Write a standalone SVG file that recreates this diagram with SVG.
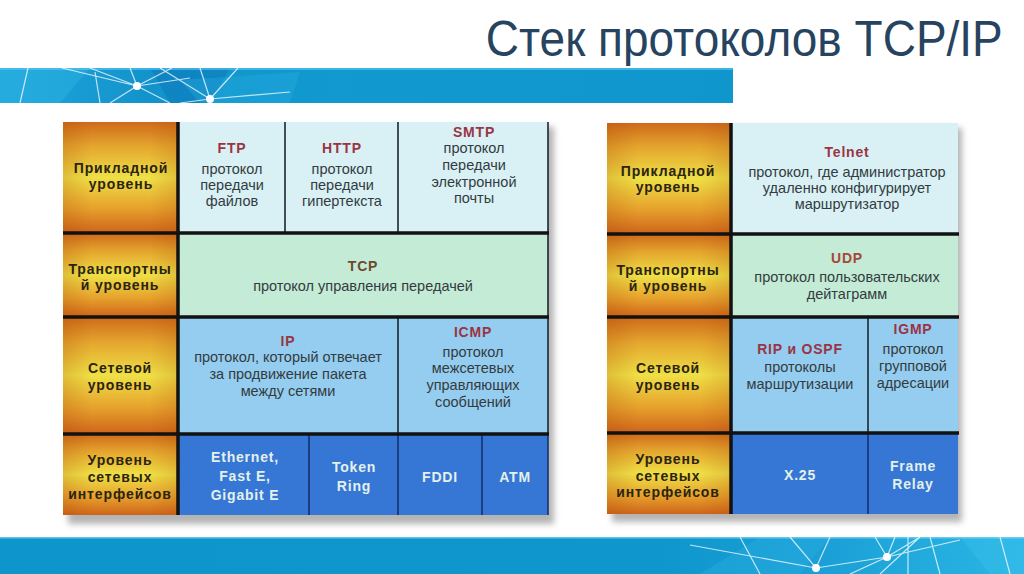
<svg xmlns="http://www.w3.org/2000/svg" width="1024" height="574" viewBox="0 0 1024 574">
<defs>
<linearGradient id="lab" x1="0" y1="0" x2="0" y2="1">
<stop offset="0" stop-color="#cf6a1a"/>
<stop offset="0.22" stop-color="#e4a62e"/>
<stop offset="0.5" stop-color="#efe046"/>
<stop offset="0.78" stop-color="#e6a02c"/>
<stop offset="1" stop-color="#cf641a"/>
</linearGradient>
<linearGradient id="labh" x1="0" y1="0" x2="1" y2="0">
<stop offset="0" stop-color="#a04000" stop-opacity="0.2"/>
<stop offset="0.25" stop-color="#a04000" stop-opacity="0"/>
<stop offset="0.75" stop-color="#a04000" stop-opacity="0"/>
<stop offset="1" stop-color="#a04000" stop-opacity="0.18"/>
</linearGradient>
<linearGradient id="bandTop" x1="0" y1="0" x2="1" y2="0">
<stop offset="0" stop-color="#1fa6da"/>
<stop offset="0.2" stop-color="#1393cc"/>
<stop offset="0.45" stop-color="#1199d0"/>
<stop offset="1" stop-color="#0f96cd"/>
</linearGradient>
<linearGradient id="bandBot" x1="0" y1="0" x2="1" y2="0">
<stop offset="0" stop-color="#0e95cb"/>
<stop offset="0.65" stop-color="#0f97cd"/>
<stop offset="0.8" stop-color="#1a9fd6"/>
<stop offset="1" stop-color="#2ab6e4"/>
</linearGradient>
<filter id="sh" x="-5%" y="-5%" width="110%" height="115%">
<feGaussianBlur stdDeviation="3"/>
</filter>
<style>
.lbl{font-family:"Liberation Sans",Arial,sans-serif;font-weight:bold;font-size:14px;letter-spacing:0.9px;fill:#2a2410;text-anchor:middle}
.nm{font-family:"Liberation Sans",Arial,sans-serif;font-weight:bold;font-size:14px;letter-spacing:0.8px;fill:#9a3444;text-anchor:middle}
.tx{font-family:"Liberation Sans",Arial,sans-serif;font-size:14.5px;fill:#333b40;text-anchor:middle}
.wt{font-family:"Liberation Sans",Arial,sans-serif;font-weight:bold;font-size:14px;letter-spacing:0.8px;fill:#e4f0ea;text-anchor:middle}
.thick{stroke:#121212;stroke-width:3.5;fill:none}
.thin{stroke:#1c2630;stroke-width:1.6;fill:none}
.thinb{stroke:#15306a;stroke-width:1.6;fill:none}
.net{stroke:#ffffff;stroke-opacity:0.75;stroke-width:1.2;fill:none}
.c1{fill:#d9f1f5}.c2{fill:#c3ebd5}.c3{fill:#94cdef}.c4{fill:#3677d6}
</style>
</defs>
<rect width="1024" height="574" fill="#ffffff"/>

<!-- title -->
<g id="title">
<text transform="scale(0.92,1)" x="1090" y="56" text-anchor="end" font-family="Liberation Sans, Arial, sans-serif" font-size="50" fill="#26435f">Стек протоколов TCP/IP</text>
</g>

<!-- top band -->
<g id="band-top">
<rect x="0" y="68" width="733" height="35" fill="url(#bandTop)"/>
<polygon points="0,68 90,68 60,103 0,103" fill="#2bb2e3" opacity="0.5"/>
<polygon points="150,68 230,68 210,103 170,103" fill="#0a74b8" opacity="0.45"/>
<polygon points="180,80 300,72 290,103 200,103" fill="#27aee0" opacity="0.35"/>
<rect x="0" y="68" width="733" height="2" fill="#5cc8ee" opacity="0.6"/>
<path class="net" d="M28,68 L20,103 M62,68 L137,86 M90,68 L137,86 L170,103 M137,86 L130,68 M137,86 L172,68 M137,86 L110,103 M137,86 L190,78 M160,68 L210,99 M210,99 L238,68 M210,99 L290,92 M210,99 L200,68 M210,99 L180,103 M95,72 L100,103"/>
<circle cx="137" cy="86" r="4" fill="#ffffff"/>
<circle cx="210" cy="99" r="4" fill="#ffffff"/>
</g>

<!-- bottom band -->
<g id="band-bottom">
<rect x="0" y="537" width="1024" height="37" fill="url(#bandBot)"/>
<polygon points="700,574 760,537 830,537 800,574" fill="#2bb0e2" opacity="0.4"/>
<polygon points="960,537 1024,537 1024,574 990,574" fill="#3cc0ea" opacity="0.4"/>
<rect x="0" y="537" width="1024" height="1.5" fill="#7fd8f2" opacity="0.7"/>
<path class="net" d="M690,545 L816,568 M790,537 L816,568 L830,537 M816,568 L887,557 M850,574 L887,557 L875,537 M887,557 L895,537 M887,557 L960,540 M887,557 L920,537 L880,574 M908,537 L908,574 M930,537 L940,574 M1000,537 L1010,574 M740,537 L760,574"/>
<circle cx="816" cy="568" r="4" fill="#ffffff"/>
<circle cx="887" cy="557" r="4" fill="#ffffff"/>
</g>

<!-- shadows -->
<rect x="68" y="127" width="486" height="397" fill="#b4b4b4" filter="url(#sh)"/>
<rect x="612" y="128" width="350" height="394" fill="#b4b4b4" filter="url(#sh)"/>

<!-- LEFT TABLE -->
<g id="left-app-label">
<rect x="63" y="122" width="115" height="111" fill="url(#lab)"/><rect x="63" y="122" width="115" height="111" fill="url(#labh)"/>
<text class="lbl" x="121" y="173">Прикладной</text><text class="lbl" x="121" y="189">уровень</text>
</g>
<g id="left-ftp">
<rect class="c1" x="178" y="122" width="107" height="111"/>
<text class="nm" x="232" y="153">FTP</text>
<text class="tx" x="232" y="174">протокол</text><text class="tx" x="232" y="190">передачи</text><text class="tx" x="232" y="206">файлов</text>
</g>
<g id="left-http">
<rect class="c1" x="285" y="122" width="113" height="111"/>
<text class="nm" x="342" y="153">HTTP</text>
<text class="tx" x="342" y="174">протокол</text><text class="tx" x="342" y="190">передачи</text><text class="tx" x="342" y="206">гипертекста</text>
</g>
<g id="left-smtp">
<rect class="c1" x="398" y="122" width="150" height="111"/>
<text class="nm" x="474" y="137">SMTP</text>
<text class="tx" x="474" y="153">протокол</text><text class="tx" x="474" y="170">передачи</text><text class="tx" x="474" y="187">электронной</text><text class="tx" x="474" y="203">почты</text>
</g>
<g id="left-transport-label">
<rect x="63" y="233" width="115" height="84" fill="url(#lab)"/><rect x="63" y="233" width="115" height="84" fill="url(#labh)"/>
<text class="lbl" x="120" y="274">Транспортны</text><text class="lbl" x="120" y="290">й уровень</text>
</g>
<g id="left-tcp">
<rect class="c2" x="178" y="233" width="370" height="84"/>
<text class="nm" x="363" y="271" style="fill:#6e4a2c">TCP</text>
<text class="tx" x="363" y="291">протокол управления передачей</text>
</g>
<g id="left-net-label">
<rect x="63" y="317" width="115" height="117" fill="url(#lab)"/><rect x="63" y="317" width="115" height="117" fill="url(#labh)"/>
<text class="lbl" x="120" y="373">Сетевой</text><text class="lbl" x="120" y="390">уровень</text>
</g>
<g id="left-ip">
<rect class="c3" x="178" y="317" width="220" height="117"/>
<text class="nm" x="288" y="346">IP</text>
<text class="tx" x="288" y="362">протокол, который отвечает</text><text class="tx" x="288" y="379">за продвижение пакета</text><text class="tx" x="288" y="396">между сетями</text>
</g>
<g id="left-icmp">
<rect class="c3" x="398" y="317" width="150" height="117"/>
<text class="nm" x="473" y="337">ICMP</text>
<text class="tx" x="473" y="357">протокол</text><text class="tx" x="473" y="373">межсетевых</text><text class="tx" x="473" y="390">управляющих</text><text class="tx" x="473" y="407">сообщений</text>
</g>
<g id="left-if-label">
<rect x="63" y="434" width="115" height="81" fill="url(#lab)"/><rect x="63" y="434" width="115" height="81" fill="url(#labh)"/>
<text class="lbl" x="120" y="465">Уровень</text><text class="lbl" x="120" y="482">сетевых</text><text class="lbl" x="120" y="499">интерфейсов</text>
</g>
<g id="left-ethernet">
<rect class="c4" x="178" y="434" width="131" height="81"/>
<text class="wt" x="245" y="462">Ethernet,</text><text class="wt" x="245" y="481">Fast E,</text><text class="wt" x="245" y="500">Gigabit E</text>
</g>
<g id="left-token">
<rect class="c4" x="309" y="434" width="89" height="81"/>
<text class="wt" x="354" y="472">Token</text><text class="wt" x="354" y="491">Ring</text>
</g>
<g id="left-fddi">
<rect class="c4" x="398" y="434" width="84" height="81"/>
<text class="wt" x="440" y="482">FDDI</text>
</g>
<g id="left-atm">
<rect class="c4" x="482" y="434" width="66" height="81"/>
<text class="wt" x="515" y="482">ATM</text>
</g>

<!-- RIGHT TABLE -->
<g id="right-app-label">
<rect x="607" y="123" width="124" height="111" fill="url(#lab)"/><rect x="607" y="123" width="124" height="111" fill="url(#labh)"/>
<text class="lbl" x="668" y="176">Прикладной</text><text class="lbl" x="668" y="192">уровень</text>
</g>
<g id="right-telnet">
<rect class="c1" x="731" y="123" width="227" height="111"/>
<text class="nm" x="847" y="157">Telnet</text>
<text class="tx" x="847" y="177">протокол, где администратор</text><text class="tx" x="847" y="193">удаленно конфигурирует</text><text class="tx" x="847" y="209">маршрутизатор</text>
</g>
<g id="right-transport-label">
<rect x="607" y="234" width="124" height="83" fill="url(#lab)"/><rect x="607" y="234" width="124" height="83" fill="url(#labh)"/>
<text class="lbl" x="668" y="275">Транспортны</text><text class="lbl" x="668" y="291">й уровень</text>
</g>
<g id="right-udp">
<rect class="c2" x="731" y="234" width="227" height="83"/>
<text class="nm" x="847" y="263" style="fill:#a8463a">UDP</text>
<text class="tx" x="847" y="282">протокол пользовательских</text><text class="tx" x="847" y="299">дейтаграмм</text>
</g>
<g id="right-net-label">
<rect x="607" y="317" width="124" height="116" fill="url(#lab)"/><rect x="607" y="317" width="124" height="116" fill="url(#labh)"/>
<text class="lbl" x="668" y="373">Сетевой</text><text class="lbl" x="668" y="390">уровень</text>
</g>
<g id="right-rip">
<rect class="c3" x="731" y="317" width="137" height="116"/>
<text class="nm" x="800" y="354">RIP и OSPF</text>
<text class="tx" x="800" y="372">протоколы</text><text class="tx" x="800" y="389">маршрутизации</text>
</g>
<g id="right-igmp">
<rect class="c3" x="868" y="317" width="90" height="116"/>
<text class="nm" x="913" y="334">IGMP</text>
<text class="tx" x="913" y="354">протокол</text><text class="tx" x="913" y="371">групповой</text><text class="tx" x="913" y="388">адресации</text>
</g>
<g id="right-if-label">
<rect x="607" y="433" width="124" height="81" fill="url(#lab)"/><rect x="607" y="433" width="124" height="81" fill="url(#labh)"/>
<text class="lbl" x="668" y="464">Уровень</text><text class="lbl" x="668" y="481">сетевых</text><text class="lbl" x="668" y="497">интерфейсов</text>
</g>
<g id="right-x25">
<rect class="c4" x="731" y="433" width="137" height="81"/>
<text class="wt" x="800" y="480">X.25</text>
</g>
<g id="right-frame">
<rect class="c4" x="868" y="433" width="90" height="81"/>
<text class="wt" x="913" y="471">Frame</text><text class="wt" x="913" y="489">Relay</text>
</g>

<!-- grid lines -->
<g id="connectors">
<path class="thin" d="M285,122 V233 M398,122 V233 M398,317 V434"/>
<path class="thinb" d="M309,434 V515 M398,434 V515 M482,434 V515"/>
<path class="thin" d="M548,122 V434"/>
<path class="thinb" d="M548,434 V515"/>
<path class="thick" d="M63,233 H549 M63,317 H549 M63,434 H549 M178,122 V515"/>
<path class="thin" d="M868,317 V433"/>
<path class="thinb" d="M868,433 V514"/>
<path class="thick" d="M607,234 H959 M607,317 H959 M607,433 H959 M731,123 V514"/>
</g>
</svg>
